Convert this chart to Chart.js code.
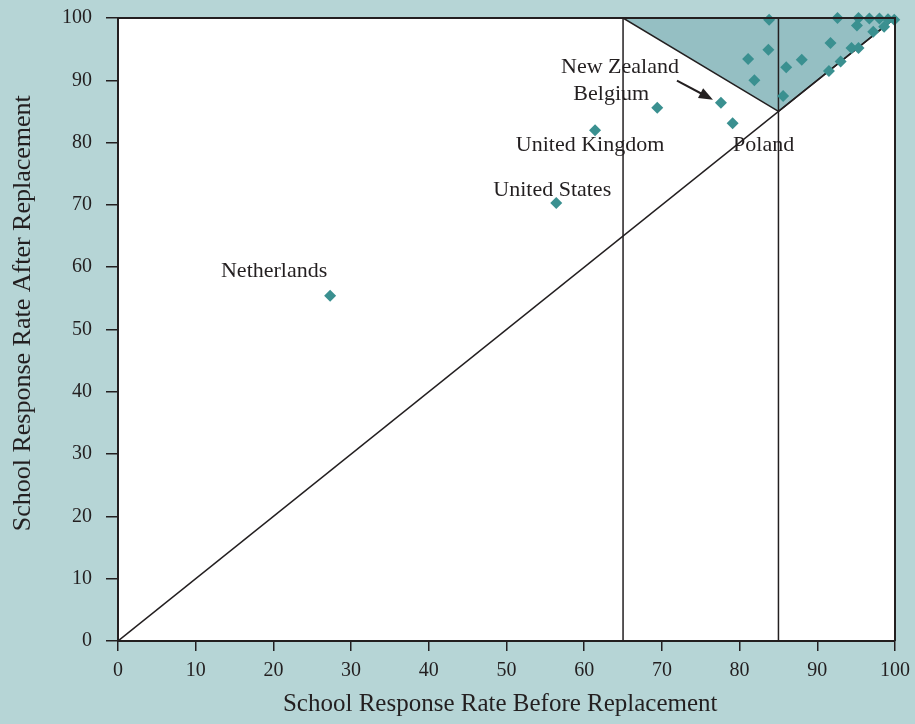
<!DOCTYPE html>
<html>
<head>
<meta charset="utf-8">
<script src="https://cdn.jsdelivr.net/npm/chart.js@4/dist/chart.umd.min.js"></script>
<style>
  html, body { margin: 0; padding: 0; background: #b6d5d6; }
  #caixa { width: 915px; height: 724px; }
</style>
</head>
<body>
<div id="caixa"><canvas id="graf1"></canvas></div>
<script>
// taxa de resposta das escolas antes e depois da substituicao
// os 6 primeiros sao os paises com nome no grafico
var nomes = ['Netherlands', 'United States', 'United Kingdom', 'Belgium', 'New Zealand', 'Poland'];
var antes = [27.3, 56.4, 61.4, 69.4, 77.6, 79.1,
  83.8, 83.7, 81.1, 81.9, 85.6, 86.0, 88.0, 92.6, 91.7, 91.5, 93.0,
  94.4, 95.3, 95.3, 95.1, 96.7, 97.2, 98.0, 98.6, 99.1, 99.9];
var depois = [55.4, 70.3, 82.0, 85.6, 86.4, 83.1,
  99.7, 94.9, 93.4, 90.0, 87.5, 92.1, 93.3, 100, 96.0, 91.5, 93.0,
  95.2, 95.2, 100, 98.8, 99.9, 97.8, 99.9, 98.6, 99.8, 99.7];

// limites das regras de amostragem
var limiteAntes = 65;
var limiteFinal = 85;
var ticksEixo = [0, 10, 20, 30, 40, 50, 60, 70, 80, 90, 100];

var pontos = antes.map(function (v, i) { return { x: v, y: depois[i] }; });
var diagonal = [{ x: 0, y: 0 }, { x: 100, y: 100 }];
var linha65 = [{ x: limiteAntes, y: 0 }, { x: limiteAntes, y: 100 }];
var linha85 = [{ x: limiteFinal, y: 0 }, { x: limiteFinal, y: 100 }];
var area = [{ x: limiteAntes, y: 100 }, { x: limiteFinal, y: limiteFinal }, { x: 100, y: 100 }];

var fonte = "'Liberation Serif', 'Times New Roman', serif";
var escuro = '#231f20';

// posicao dos nomes em relacao ao ponto (centro do texto, linha de base)
var desloc = [[-56, -19], [-4, -7], [-5, 21], [-46, -8], [-101, -30], [31, 28]];

// fundo branco da area do grafico + borda de cima e da direita + nomes
var pluginArea = {
  id: 'areaBranca',
  beforeDraw: function (chart) {
    var c = chart.ctx, a = chart.chartArea;
    c.save();
    c.fillStyle = '#ffffff';
    c.fillRect(a.left, a.top, a.right - a.left, a.bottom - a.top);
    c.restore();
  },
  afterDraw: function (chart) {
    var c = chart.ctx, a = chart.chartArea;
    var sx = chart.scales.x, sy = chart.scales.y;
    c.save();
    c.strokeStyle = escuro;
    c.lineWidth = 2;
    c.beginPath();
    c.moveTo(a.left, a.top);
    c.lineTo(a.right, a.top);
    c.lineTo(a.right, a.bottom);
    c.stroke();

    c.fillStyle = escuro;
    c.font = '22px ' + fonte;
    c.textAlign = 'center';
    c.textBaseline = 'alphabetic';
    nomes.forEach(function (n, i) {
      var px = sx.getPixelForValue(antes[i]);
      var py = sy.getPixelForValue(depois[i]);
      c.fillText(n, px + desloc[i][0], py + desloc[i][1]);
    });

    // seta da Nova Zelandia
    var nx = sx.getPixelForValue(antes[4]);
    var ny = sy.getPixelForValue(depois[4]);
    var x1 = nx - 44, y1 = ny - 22, x2 = nx - 8, y2 = ny - 3;
    var ang = Math.atan2(y2 - y1, x2 - x1);
    c.lineWidth = 2;
    c.beginPath();
    c.moveTo(x1, y1);
    c.lineTo(x2 - 8 * Math.cos(ang), y2 - 8 * Math.sin(ang));
    c.stroke();
    c.beginPath();
    c.moveTo(x2, y2);
    c.lineTo(x2 - 14 * Math.cos(ang) + 5.5 * Math.sin(ang), y2 - 14 * Math.sin(ang) - 5.5 * Math.cos(ang));
    c.lineTo(x2 - 14 * Math.cos(ang) - 5.5 * Math.sin(ang), y2 - 14 * Math.sin(ang) + 5.5 * Math.cos(ang));
    c.closePath();
    c.fill();
    c.restore();
  }
};

var linhaBase = { type: 'line', borderColor: escuro, borderWidth: 1.5, pointRadius: 0, fill: false };

var ctx = document.getElementById('graf1');
var graf1 = new Chart(ctx, {
  type: 'scatter',
  data: {
    datasets: [
      {
        label: 'Paises',
        data: pontos,
        pointStyle: 'rectRot',
        pointRadius: 6,
        backgroundColor: '#3a9090',
        borderWidth: 0,
        clip: false,
        order: 0
      },
      Object.assign({ data: diagonal, order: 1 }, linhaBase),
      Object.assign({ data: linha65, order: 1 }, linhaBase),
      Object.assign({ data: linha85, order: 1 }, linhaBase),
      {
        type: 'line',
        data: area,
        fill: 'shape',
        backgroundColor: '#95bfc3',
        borderColor: escuro,
        borderWidth: 1.5,
        pointRadius: 0,
        order: 3
      }
    ]
  },
  options: {
    responsive: true,
    maintainAspectRatio: false,
    animation: false,
    layout: { padding: { top: 18, right: 20, left: 0, bottom: 0 } },
    plugins: { legend: { display: false }, tooltip: { enabled: false } },
    scales: {
      x: {
        type: 'linear', min: 0, max: 100,
        afterBuildTicks: function (s) { s.ticks = ticksEixo.map(function (v) { return { value: v }; }); },
        afterFit: function (s) { s.height = 83; s.paddingLeft = 0; s.paddingRight = 0; },
        ticks: { color: escuro, font: { family: fonte, size: 20 }, padding: 8, maxRotation: 0 },
        grid: { drawOnChartArea: false, drawTicks: true, tickLength: 10, color: escuro, lineWidth: 1.5 },
        border: { color: escuro, width: 2 },
        title: { display: true, text: 'School Response Rate Before Replacement  ', color: escuro,
          font: { family: fonte, size: 25 }, padding: { top: 0, bottom: 5 } }
      },
      y: {
        type: 'linear', min: 0, max: 100,
        afterBuildTicks: function (s) { s.ticks = ticksEixo.map(function (v) { return { value: v }; }); },
        afterFit: function (s) { s.width = 118; s.paddingTop = 0; s.paddingBottom = 0; },
        ticks: { color: escuro, font: { family: fonte, size: 20 }, padding: 14 },
        grid: { drawOnChartArea: false, drawTicks: true, tickLength: 12, color: escuro, lineWidth: 1.5 },
        border: { color: escuro, width: 2 },
        title: { display: true, text: '     School Response Rate After Replacement', color: escuro,
          font: { family: fonte, size: 26 }, padding: { top: 8, bottom: 0 } }
      }
    }
  },
  plugins: [pluginArea]
});
</script>
</body>
</html>
